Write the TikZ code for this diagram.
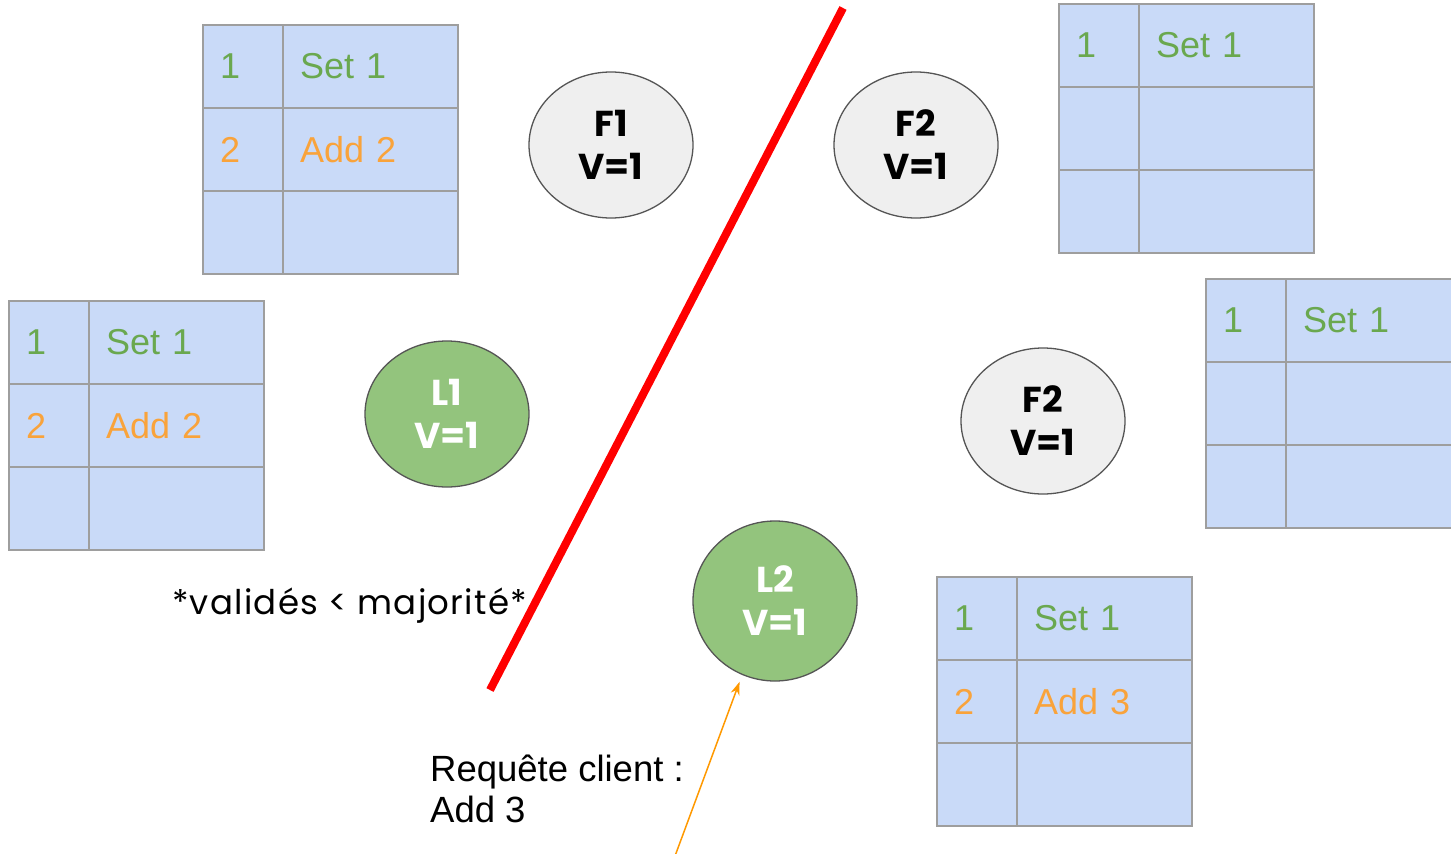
\documentclass[tikz,border=0pt]{standalone}
\usepackage{fontspec}
\setmainfont{Liberation Sans}
\newfontfamily\geo{Poppins}
\newfontfamily\geowide[LetterSpace=3.7]{Poppins}
\usetikzlibrary{shapes.geometric,arrows.meta}
\definecolor{cellblue}{HTML}{C9DAF8}
\definecolor{cellline}{HTML}{9E9E9E}
\definecolor{txtgreen}{HTML}{6AA84F}
\definecolor{txtorange}{HTML}{F9A33B}
\definecolor{nodegrey}{HTML}{EFEFEF}
\definecolor{nodegreen}{HTML}{93C47D}
\definecolor{nodeline}{HTML}{555555}
\definecolor{arroworange}{HTML}{FF9900}
\tikzset{
  cellbase/.style={draw=cellline, line width=2pt, fill=cellblue, rectangle, outer sep=0pt,
    minimum height=83pt, inner xsep=17pt, inner ysep=0pt, align=left,
    font=\fontsize{36}{40}\selectfont},
  idxcell/.style={cellbase, text width=46pt},
  cmdcell/.style={cellbase, text width=141pt},
  green/.style={text=txtgreen},
  orange/.style={text=txtorange},
  server/.style={ellipse, draw=nodeline, line width=1.3pt, outer sep=0pt,
    minimum width=164pt, minimum height=146pt, inner sep=0pt, align=center,
    font=\geo\bfseries\fontsize{36}{43}\selectfont},
  follower/.style={server, fill=nodegrey, text=black},
  leader/.style={server, fill=nodegreen, text=white},
  partition/.style={draw=red, line width=8pt, line cap=butt},
  request/.style={draw=arroworange, line width=1.5pt, -{Stealth[length=13pt,width=9pt]}, shorten >=8pt},
}
\newcommand\logtable[7]{%
  \node[idxcell, anchor=north west, #4] (#1-i1) at (#2,#3) {1};
  \node[cmdcell, anchor=west, green] (#1-c1) at (#1-i1.east) {Set 1};
  \node[idxcell, anchor=north, orange] (#1-i2) at (#1-i1.south) {#5};
  \node[cmdcell, anchor=west, orange] (#1-c2) at (#1-i2.east) {#6};
  \node[idxcell, anchor=north] (#1-i3) at (#1-i2.south) {};
  \node[cmdcell, anchor=west] (#1-c3) at (#1-i3.east) {#7};
}
\begin{document}
\begin{tikzpicture}[x=1pt,y=-1pt]
\clip (0,0) rectangle (1451,854);
\fill[white] (0,0) rectangle (1451,854);
% logs
\logtable{tA}{203}{25}{green}{2}{Add 2}{}
\logtable{tB}{9}{301}{green}{2}{Add 2}{}
\logtable{tC}{1059}{4}{green}{}{}{}
\logtable{tD}{1206}{279}{green}{}{}{}
\logtable{tE}{937}{577}{green}{2}{Add 3}{}
% servers
\node[follower] (F1) at (611,145) {F1\\V=1};
\node[follower] (F2a) at (916,145) {F2\\V=1};
\node[leader] (L1) at (447,414) {L1\\V=1};
\node[follower] (F2b) at (1043,421) {F2\\V=1};
\node[leader, minimum height=160pt] (L2) at (775,601) {L2\\V=1};
% partition
\coordinate (p1) at (843,8);
\coordinate (p2) at (490,690);
\draw[partition] (p1) -- (p2);
% labels
\node[anchor=base west, inner sep=0pt, font=\geowide\fontsize{34}{38}\selectfont] (maj) at (172,614) {*validés < majorité*};
\node[anchor=base west, inner sep=0pt, align=left, font=\fontsize{36.5}{41}\selectfont] (req) at (430,822) {Requête client :\\Add 3};
% client request
\coordinate (c0) at (675,856);
\draw[request] (c0) -- (L2.246);
\end{tikzpicture}
\end{document}
